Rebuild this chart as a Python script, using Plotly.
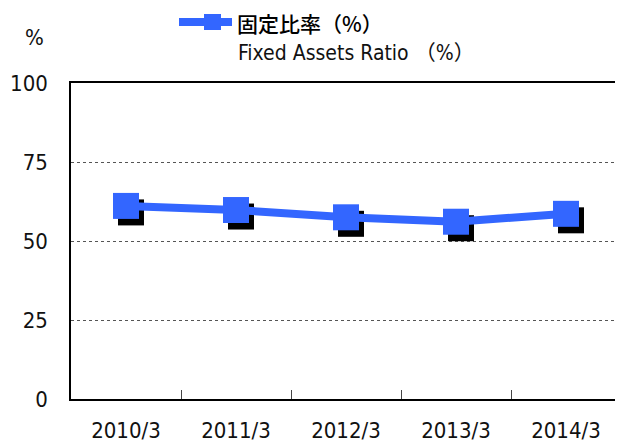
import plotly.graph_objects as go

# Fixed assets ratio (%), fiscal years ending March
periods = ["2010/3", "2011/3", "2012/3", "2013/3", "2014/3"]
ratio = [61.1, 59.8, 57.5, 56.1, 58.6]
y_ticks = [0, 25, 50, 75, 100]

FONT = "DejaVu Sans Condensed, Noto Sans CJK JP, sans-serif"
BLUE = "#3366FF"

# the page body has an 8px margin, so the figure is shifted by that much
OFF = 8
W, H = 623 - OFF, 442 - OFF
# plot area in window pixels, used to place the hand-made legend
L, R, T, B = 71, 621, 83, 399
def px(x):
    return (x - L) / (R - L)
def py(y):
    return (B - y) / (B - T)

xs = list(range(len(periods)))
# drop shadow: a few pixels right / down
dx = 5 / ((R - L) / len(periods))
dy = 6.5 * 100 / (B - T)

fig = go.Figure()
fig.add_trace(go.Scatter(
    x=[x + dx for x in xs], y=[v - dy for v in ratio],
    mode="markers", marker=dict(symbol="square", size=26, color="black"),
    hoverinfo="skip", showlegend=False
))
fig.add_trace(go.Scatter(
    x=xs, y=ratio, mode="lines+markers", name="固定比率（%）",
    line=dict(color=BLUE, width=8),
    marker=dict(symbol="square", size=26, color=BLUE),
    showlegend=False
))

# legend sample + labels
fig.add_shape(type="line", xref="paper", yref="paper",
              x0=px(179), x1=px(232), y0=py(22), y1=py(22),
              line=dict(color=BLUE, width=8))
fig.add_shape(type="rect", xref="paper", yref="paper",
              x0=px(204), x1=px(221), y0=py(14), y1=py(30),
              fillcolor=BLUE, line_width=0)
fig.add_annotation(xref="paper", yref="paper", x=px(236), y=py(23),
                   xanchor="left", yanchor="middle", showarrow=False,
                   text="固定比率（%）", borderpad=0,
                   font=dict(family="Noto Sans CJK JP", size=21, color="black", weight=500))
fig.add_annotation(xref="paper", yref="paper", x=px(236), y=py(53),
                   xanchor="left", yanchor="middle", showarrow=False,
                   text="Fixed Assets Ratio （%）",
                   font=dict(family=FONT, size=21, color="#111"))
fig.add_annotation(xref="paper", yref="paper", x=px(34), y=py(38),
                   xanchor="center", yanchor="middle", showarrow=False,
                   text="%", font=dict(family=FONT, size=22, color="#111"))

fig.update_layout(
    width=W, height=H,
    margin=dict(l=L - OFF, r=623 - R, t=T - OFF, b=442 - B),
    plot_bgcolor="white", paper_bgcolor="white",
    font=dict(family=FONT, size=23, color="#111"),
    showlegend=False,
)
fig.update_xaxes(
    range=[-0.5, len(periods) - 0.5], automargin=False,
    tickvals=xs, ticktext=periods, ticks="", ticklabelstandoff=11,
    tickfont_size=22,
    showgrid=False, zeroline=False,
    showline=True, linecolor="black", linewidth=1.5, mirror=True,
    minor=dict(tickvals=[x + 0.5 for x in xs[:-1]], ticks="inside",
               ticklen=9, tickcolor="#444", showgrid=False),
)
fig.update_yaxes(
    range=[0, 100], tickvals=y_ticks, ticks="", ticklabelstandoff=17,
    tickfont_size=22, automargin=False,
    showgrid=True, gridcolor="#555", griddash="dot", gridwidth=1,
    zeroline=False, showline=True, linecolor="black", linewidth=1.5, mirror=True,
)

fig.write_html("out.html")
